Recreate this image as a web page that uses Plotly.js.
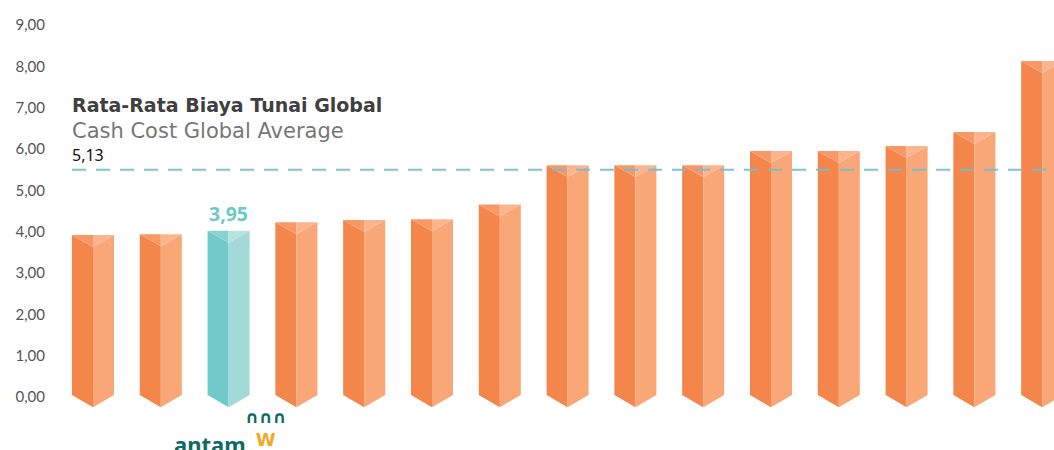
<!DOCTYPE html>
<html>
<head>
<meta charset="utf-8">
<script src="https://cdn.plot.ly/plotly-3.0.1.min.js"></script>
<style>html,body{margin:0;padding:0;background:#fff;}#chart{width:1054px;height:450px;}</style>
</head>
<body>
<div id="chart"></div>
<script>
// ---- data ----
const companies = ["P1","P2","ANTAM","P4","P5","P6","P7","P8","P9","P10","P11","P12","P13","P14","P15"];
const cashCost = [3.92, 3.94, 4.02, 4.23, 4.28, 4.30, 4.66, 5.61, 5.61, 5.61, 5.95, 5.95, 6.07, 6.41, 8.13];
const highlightIndex = 2;
const highlightLabel = "3,95";
const avgLine = 5.5;
const avgLabel = "5,13";
const tickValues = [0,1,2,3,4,5,6,7,8,9];
const tickLabels = ["0,00","1,00","2,00","3,00","4,00","5,00","6,00","7,00","8,00","9,00"];

// ---- style constants ----
const HW = 0.31;     // half bar width (x units)
const CAP = 0.29;    // top cap depth (y units)
const VEE = 0.30;    // bottom V depth (y units)
const BASE = 0.05;

function polys(indices, part) {
  const xs = [], ys = [];
  indices.forEach(i => {
    const v = cashCost[i];
    let px, py;
    if (part === 'left') { px = [i-HW, i, i, i-HW, i-HW]; py = [v, v-CAP, BASE-VEE, BASE, v]; }
    if (part === 'right') { px = [i, i+HW, i+HW, i, i]; py = [v-CAP, v, BASE, BASE-VEE, v-CAP]; }
    if (part === 'capL') { px = [i-HW, i, i, i-HW]; py = [v, v, v-CAP, v]; }
    if (part === 'capR') { px = [i, i+HW, i, i]; py = [v, v, v-CAP, v]; }
    xs.push(...px, null); ys.push(...py, null);
  });
  return {x: xs, y: ys};
}
const orangeIdx = cashCost.map((_, i) => i).filter(i => i !== highlightIndex);
const tealIdx = [highlightIndex];

const palette = {
  orange: {left:'#F4854B', right:'#F9A777', capL:'#F79866', capR:'#FBB58E'},
  teal:   {left:'#72C9C9', right:'#A3DAD8', capL:'#8AD2D1', capR:'#B6E2E0'}
};
const traces = [];
[['orange', orangeIdx], ['teal', tealIdx]].forEach(([c, idx]) => {
  ['left','right','capL','capR'].forEach(p => {
    const d = polys(idx, p);
    traces.push({type:'scatter', mode:'lines', x:d.x, y:d.y, fill:'toself',
      fillcolor: palette[c][p], line:{width:0, color: palette[c][p]}, hoverinfo:'skip', showlegend:false});
  });
});
// average dashed line
traces.push({type:'scatter', mode:'lines', x:[-0.31, 14.6], y:[avgLine, avgLine],
  line:{color:'rgba(110,190,215,0.9)', width:2, dash:'14px,10px'}, hoverinfo:'skip', showlegend:false});

const FT = 'Lato, "Noto Sans", sans-serif';
const F = '"Noto Sans", sans-serif';
const FD = '"DejaVu Sans", sans-serif';
const layout = {
  width:1054, height:450,
  margin:{l:50, r:0, t:0, b:0},
  paper_bgcolor:'#fff', plot_bgcolor:'#fff',
  showlegend:false,
  xaxis:{range:[-0.634, 14.174], showgrid:false, zeroline:false, showticklabels:false, ticks:'', fixedrange:true},
  yaxis:{range:[-1.282, 9.605], showgrid:false, zeroline:false, tickvals:tickValues, ticktext:tickLabels,
    ticks:'', ticklabelstandoff:4, tickfont:{family:FT, size:15, color:'#555'}, fixedrange:true},
  annotations:[
    {x:-0.345, y:7.07, xref:'x', yref:'y', xanchor:'left', yanchor:'middle', showarrow:false,
     text:'<b>Rata-Rata Biaya Tunai Global</b>', font:{family:FD, size:19, color:'#3f3f3f'}},
    {x:-0.345, y:6.44, xref:'x', yref:'y', xanchor:'left', yanchor:'middle', showarrow:false,
     text:'Cash Cost Global Average', font:{family:FD, size:21, color:'#777'}},
    {x:-0.345, y:5.85, xref:'x', yref:'y', xanchor:'left', yanchor:'middle', showarrow:false,
     text:avgLabel, font:{family:F, size:16, color:'#111'}},
    {x:highlightIndex, y:cashCost[highlightIndex], xref:'x', yref:'y', xanchor:'center', yanchor:'bottom', yshift:2, showarrow:false,
     text:'<b>'+highlightLabel+'</b>', font:{family:F, size:19.5, color:'#6DC9C9'}},
    {x:highlightIndex, y:-1.282, xref:'x', yref:'y', xanchor:'right', yanchor:'bottom', xshift:19, yshift:-11, showarrow:false,
     text:'<b>antam</b>', font:{family:F, size:22, color:'#0E6B5F'}},
    {x:highlightIndex, y:-0.76, xref:'x', yref:'y', xanchor:'center', yanchor:'middle', xshift:37, showarrow:false,
     text:'<b><span style="color:#0E6B5F;font-size:17px">∩∩∩</span><br>W</b>', font:{family:FD, size:18, color:'#F5A623'}}
  ]
};
Plotly.newPlot('chart', traces, layout, {displayModeBar:false, staticPlot:true});
</script>
</body>
</html>
